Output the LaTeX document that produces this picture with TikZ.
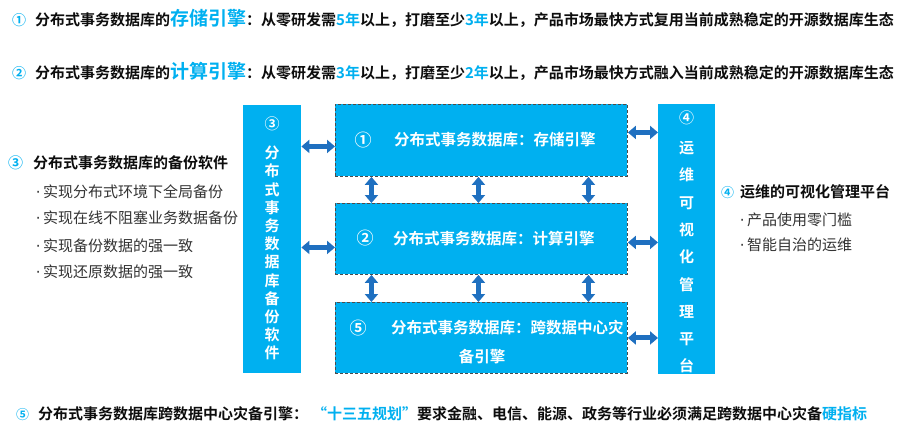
\documentclass[tikz,border=0pt]{standalone}
\usepackage{fontspec}
\setmainfont{Noto Sans CJK SC}[BoldFont={Noto Sans CJK SC Bold}]
\newfontfamily\latfont{DejaVu Sans}
\usetikzlibrary{arrows.meta}
\definecolor{cyanbox}{HTML}{00B0F0}
\definecolor{arrowblue}{HTML}{1F70C0}
\definecolor{hl}{HTML}{00B0F0}
\definecolor{txt}{HTML}{0D0D0D}
\definecolor{gtxt}{HTML}{333333}
\newcommand{\dotb}{{\latfont ·}\hspace{2.6pt}}
\begin{document}
\begin{tikzpicture}[x=1pt,y=-1pt,
  box/.style={fill=cyanbox, draw=none, inner sep=0pt, anchor=north west},
  dbox/.style={fill=cyanbox, draw=black!70, dash pattern=on 3pt off 2pt, line width=0.9pt, inner sep=0pt, anchor=north west},
  arr/.style={draw=arrowblue, line width=5pt, {Triangle[width=13pt,length=8pt]}-{Triangle[width=13pt,length=8pt]}},
  wt/.style={text=white, font=\fontsize{15.5}{18}\selectfont\bfseries, inner sep=0pt},
  headline/.style={inner sep=0pt, anchor=base west, font=\fontsize{15}{17}\selectfont\bfseries, text=txt},
  bullet/.style={inner sep=0pt, anchor=base west, font=\fontsize{15}{17}\selectfont, text=gtxt},
]
\useasboundingbox[fill=white] (0,0) rectangle (904,436);

% top lines
\node[headline] (top1) at (12,25.7) {\textcolor{hl}{\fontsize{14}{16}\selectfont ①}\hspace{9pt}分布式事务数据库的\textcolor{hl}{\fontsize{19}{20}\selectfont 存储引擎}：从零研发需\textcolor{hl}{5年}以上，打磨至少\textcolor{hl}{3年}以上，产品市场最快方式复用当前成熟稳定的开源数据库生态};
\node[headline] (top2) at (12,78.7) {\textcolor{hl}{\fontsize{14}{16}\selectfont ②}\hspace{9pt}分布式事务数据库的\textcolor{hl}{\fontsize{19}{20}\selectfont 计算引擎}：从零研发需\textcolor{hl}{3年}以上，打磨至少\textcolor{hl}{2年}以上，产品市场最快方式融入当前成熟稳定的开源数据库生态};

% boxes
\node[box, minimum width=58pt, minimum height=268pt] (L) at (243,105) {};
\node[dbox, minimum width=292pt, minimum height=72pt] (S1) at (335,104) {};
\node[dbox, minimum width=292pt, minimum height=71pt] (S2) at (335,203) {};
\node[dbox, minimum width=292pt, minimum height=71pt] (S5) at (335,302) {};
\node[box, minimum width=57pt, minimum height=270pt] (R) at (658,104) {};

% box texts
\node[wt, align=center, font=\fontsize{15}{18.2}\selectfont\bfseries] (Lt) at (272,238.5) {③\\[10.8pt]分\\布\\式\\事\\务\\数\\据\\库\\备\\份\\软\\件};
\node[wt, align=center, font=\fontsize{15}{27.3}\selectfont\bfseries] (Rt) at (686.5,242) {④\\[2.7pt]运\\维\\可\\视\\化\\管\\理\\平\\台};
\node[wt, font=\fontsize{17}{18}\selectfont\bfseries] (n1) at (363,140) {①};
\node[wt, anchor=west] (t1) at (394,140) {分布式事务数据库：存储引擎};
\node[wt, font=\fontsize{17}{18}\selectfont\bfseries] (n2) at (365,238.5) {②};
\node[wt, anchor=west] (t2) at (393,238.5) {分布式事务数据库：计算引擎};
\node[wt, font=\fontsize{17}{18}\selectfont\bfseries] (n5) at (358,328) {⑤};
\node[wt, anchor=west] (t5) at (391,328) {分布式事务数据库：跨数据中心灾};
\node[wt] (t5b) at (482,357) {备引擎};

% arrows
\draw[arr] ([yshift=-6pt]S1.west -| L.east) -- ([yshift=-6pt]S1.west);
\draw[arr] ([yshift=-8.5pt]S2.west -| L.east) -- ([yshift=-8.5pt]S2.west);
\draw[arr] ([yshift=8pt]S1.east) -- ([yshift=8pt]S1.east -| R.west);
\draw[arr] ([yshift=-3.5pt]S2.east) -- ([yshift=-3.5pt]S2.east -| R.west);
\draw[arr] (S5.east) -- (S5.east -| R.west);
\foreach \dx in {-110,-3,107} {
  \draw[arr] ([xshift=\dx pt]S1.south) -- ([xshift=\dx pt]S2.north);
  \draw[arr] ([xshift=\dx pt]S2.south) -- ([xshift=\dx pt]S5.north);
}

% left description
\node[headline] (lh) at (8,168.7) {\textcolor{hl}{③}\hspace{10pt}分布式事务数据库的备份软件};
\node[bullet] (lb1) at (35.6,197.7) {\dotb 实现分布式环境下全局备份};
\node[bullet] (lb2) at (35.6,223.7) {\dotb 实现在线不阻塞业务数据备份};
\node[bullet] (lb3) at (35.6,251.7) {\dotb 实现备份数据的强一致};
\node[bullet] (lb4) at (35.6,277.7) {\dotb 实现还原数据的强一致};

% right description
\node[headline] (rh) at (721,197.7) {\textcolor{hl}{\fontsize{13}{15}\selectfont ④}\hspace{6pt}运维的可视化管理平台};
\node[bullet] (rb1) at (739.6,225.7) {\dotb 产品使用零门槛};
\node[bullet] (rb2) at (739.6,250.7) {\dotb 智能自治的运维};

% bottom line
\node[headline] (bot) at (16,419.7) {\textcolor{hl}{\fontsize{13}{15}\selectfont ⑤}\hspace{9pt}分布式事务数据库跨数据中心灾备引擎：\hspace{4pt}\textcolor{hl}{“十三五规划”}要求金融、电信、能源、政务等行业必须满足跨数据中心灾备\textcolor{hl}{硬指标}};
\end{tikzpicture}
\end{document}
